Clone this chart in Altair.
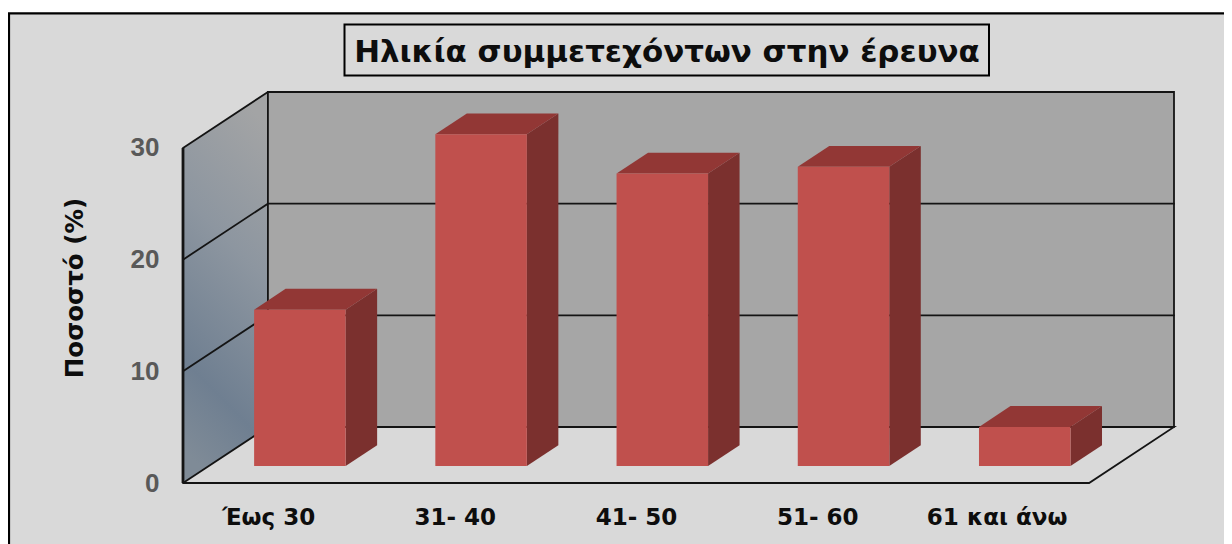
import altair as alt
import pandas as pd

categories = ["Έως 30", "31- 40", "41- 50", "51- 60", "61 και άνω"]
values = [14.0, 29.7, 26.2, 26.8, 3.5]
label_positions = [0.47, 1.5, 2.5, 3.5, 4.49]
ticks = [0, 10, 20, 30]
grid_levels = [10, 20]
title_text = "Ηλικία συμμετεχόντων στην έρευνα"
y_title = "Ποσοστό (%)"

N = len(categories)
DX = 85 / 181.4          # depth of the 3-D box, in category units
DY = 56 / 11.167         # depth of the 3-D box, in value units
TOP = 30
BAR_LEFT, BAR_W = 0.25, 0.505
D1, D2 = 0.304, 0.675    # bar's front and back depth

xs = alt.Scale(domain=[0, N + DX], nice=False, zero=False)
ys = alt.Scale(domain=[0, TOP + DY], nice=False, zero=False)


def px(x, d):
    return x + d * DX


def py(v, d):
    return v + d * DY


def X(field="x", **k):
    return alt.X(f"{field}:Q", scale=xs, axis=None, **k)


def Y(field="y", **k):
    return alt.Y(f"{field}:Q", scale=ys, axis=None, **k)


# --- panel and title box
one = pd.DataFrame({"a": [0]})
panel = alt.Chart(one).mark_rect(fill="#D9D9D9", stroke="#000000", strokeWidth=2.2).encode(
    x=alt.value(-174), x2=alt.value(1070), y=alt.value(-78.7), y2=alt.value(480))
title_box = alt.Chart(one).mark_rect(fill="#D9D9D9", stroke="#000000", strokeWidth=2).encode(
    x=alt.value(161.5), x2=alt.value(806), y=alt.value(-67.5), y2=alt.value(-16.5))
title = alt.Chart(pd.DataFrame({"t": [title_text]})).mark_text(
    font="DejaVu Sans", fontWeight="bold", fontSize=30.9, color="#0D0D0D", align="center", baseline="middle"
).encode(x=alt.value(484), y=alt.value(-39), text="t:N")

# --- walls
back = pd.DataFrame({"x": [px(0, 1), px(N, 1)], "y": [py(0, 1)] * 2, "y2": [py(TOP, 1)] * 2})
back_wall = alt.Chart(back).mark_area(color="#A6A6A6").encode(X(), Y(), y2="y2:Q")

left = pd.DataFrame({"x": [px(0, 0), px(0, 1)], "y": [py(0, 0), py(0, 1)], "y2": [py(TOP, 0), py(TOP, 1)]})
left_wall = alt.Chart(left).mark_area(
    color=alt.Gradient(
        gradient="linear", x1=0.61, y1=0, x2=0.39, y2=1,
        stops=[
            alt.GradientStop(offset=0, color="#A3A4A5"),
            alt.GradientStop(offset=0.38, color="#8D96A0"),
            alt.GradientStop(offset=0.78, color="#6F7F91"),
            alt.GradientStop(offset=1, color="#7F8B97"),
        ],
    )
).encode(X(), Y(), y2="y2:Q")

# --- box edges and gridlines
rows = []


def seg(name, pts):
    for o, (x, v, d) in enumerate(pts):
        rows.append({"seg": name, "o": o, "x": px(x, d), "y": py(v, d)})


for lv in grid_levels:
    seg(f"grid{lv}", [(0, lv, 0), (0, lv, 1), (N, lv, 1)])
seg("floor", [(0, 0, 0), (0, 0, 1), (N, 0, 1), (N, 0, 0), (0, 0, 0)])
seg("wall", [(0, 0, 1), (0, TOP, 1), (N, TOP, 1), (N, 0, 1)])
seg("top", [(0, TOP, 0), (0, TOP, 1)])
edges = pd.DataFrame(rows)
edge_lines = alt.Chart(edges).mark_line(color="#141414", strokeWidth=1.8, strokeCap="round").encode(
    X(), Y(), detail="seg:N", order="o:Q")
left_edge = alt.Chart(pd.DataFrame({"x": [0, 0], "y": [0, TOP], "o": [0, 1]})).mark_line(
    color="#141414", strokeWidth=2.8).encode(X(), Y(), order="o:Q")

# --- bars
front, side, topf = [], [], []
for i, (c, v) in enumerate(zip(categories, values)):
    l, r = i + BAR_LEFT, i + BAR_LEFT + BAR_W
    front.append({"cat": c, "x": px(l, D1), "x2": px(r, D1), "y": py(0, D1), "y2": py(v, D1)})
    side.append({"cat": c, "x": px(r, D1), "y": py(0, D1), "y2": py(v, D1)})
    side.append({"cat": c, "x": px(r, D2), "y": py(0, D2), "y2": py(v, D2)})
    topf.append({"cat": c, "y": py(v, D1), "x": px(l, D1), "x2": px(r, D1)})
    topf.append({"cat": c, "y": py(v, D2), "x": px(l, D2), "x2": px(r, D2)})

bar_side = alt.Chart(pd.DataFrame(side)).mark_area(color="#7B302E").encode(
    X(), Y(), y2="y2:Q", detail="cat:N")
bar_top = alt.Chart(pd.DataFrame(topf)).mark_area(color="#923735", orient="horizontal").encode(
    X(), Y(), x2="x2:Q", detail="cat:N")
bar_front = alt.Chart(pd.DataFrame(front)).mark_rect(color="#C0504D").encode(
    X(), Y(), x2="x2:Q", y2="y2:Q")

# --- axes
axis_data = pd.DataFrame({"x": [0], "y": [0]})
labels_js = "[" + ",".join(f"'{c}'" for c in categories) + "]"
axes = alt.Chart(axis_data).mark_point(opacity=0).encode(
    x=alt.X("x:Q", scale=xs, title=None, axis=alt.Axis(
        values=label_positions, grid=False, domain=False, ticks=False, zindex=1,
        labelExpr=f"{labels_js}[round(datum.value-0.5)]",
        labelFont="DejaVu Sans", labelFontWeight="bold", labelFontSize=23, labelColor="#0D0D0D",
        labelPadding=23, labelFlush=False, labelOverlap=False)),
    y=alt.Y("y:Q", scale=ys, title=y_title, axis=alt.Axis(
        values=ticks, grid=False, domain=False, ticks=False, format="d", zindex=1,
        labelFont="Liberation Sans", labelFontWeight="bold", labelFontSize=26, labelColor="#595959",
        labelPadding=24, labelFlush=False, labelOverlap=False,
        titleFont="DejaVu Sans", titleFontWeight="bold", titleFontSize=24.5, titleColor="#0D0D0D",
        titlePadding=43)),
)

chart = alt.layer(
    panel, title_box, title, back_wall, left_wall, edge_lines, left_edge,
    bar_side, bar_top, bar_front, axes,
).resolve_axis(x="independent", y="independent").properties(
    width=991, height=391,
    padding={"left": 175, "top": 84, "right": 50, "bottom": 61},
    autosize=alt.AutoSizeParams(type="none"),
    background="#FFFFFF",
).configure_view(stroke=None)

chart.save("out.html", embed_options={"renderer": "svg", "actions": False})
